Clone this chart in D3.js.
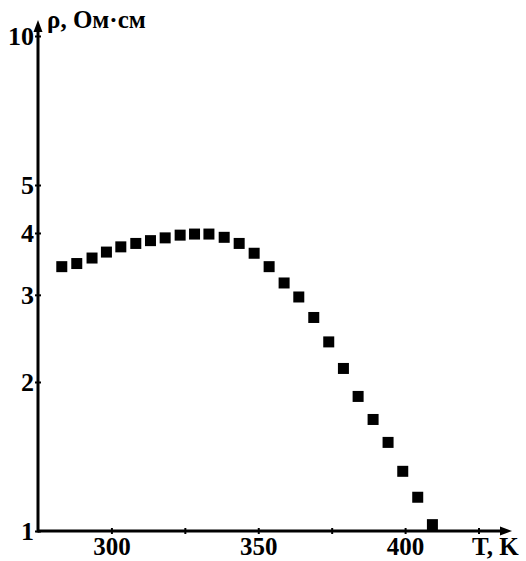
<!DOCTYPE html>
<html>
<head>
<meta charset="utf-8">
<script src="https://cdn.jsdelivr.net/npm/d3@7"></script>
<style>
body { margin: 0; background: #fff; }
text { font-family: 'Liberation Serif', 'Times New Roman', serif; font-weight: bold; fill: #000; }
</style>
</head>
<body>
<div id="chart"></div>
<script>
// temperature, K
var temps = [283.1, 288.2, 293.4, 298.3, 303.2, 308.3, 313.3, 318.3, 323.4, 328.3,
  333.2, 338.4, 343.5, 348.6, 353.7, 358.8, 363.8, 368.9, 374.0, 379.0,
  384.0, 389.1, 394.2, 399.2, 404.3, 409.3];
// resistivity, Ohm*cm
var rho = [3.42, 3.47, 3.56, 3.66, 3.75, 3.81, 3.86, 3.91, 3.96, 3.98,
  3.98, 3.92, 3.81, 3.64, 3.42, 3.17, 2.97, 2.70, 2.41, 2.13,
  1.87, 1.68, 1.51, 1.32, 1.17, 1.03];
var xTicks = [300, 325, 350, 375, 400, 425];
var xLabels = [300, 350, 400];
var yTicks = [1, 2, 3, 4, 5, 10];

var width = 526, height = 561;
var x0 = 38, y0 = 531;

var svg = d3.select('#chart').append('svg')
  .attr('width', width)
  .attr('height', height);

var x = d3.scaleLinear()
  .domain([275, 436.4])
  .range([x0, 512]);

var y = d3.scaleLog()
  .domain([1, 10])
  .range([y0, 36]);

// x axis
var xAxis = d3.axisBottom(x)
  .tickValues(xTicks)
  .tickSize(0)
  .tickFormat(d => xLabels.indexOf(d) >= 0 ? d : '');

var gx = svg.append('g')
  .attr('transform', 'translate(0,' + y0 + ')')
  .call(xAxis);
gx.select('.domain').remove();
gx.selectAll('.tick line')
  .attr('y1', -3).attr('y2', 3)
  .attr('stroke', '#000').attr('stroke-width', 2);
gx.selectAll('.tick text')
  .attr('y', 24)
  .attr('dy', 0)
  .style('font-size', '25px');

// y axis
var yAxis = d3.axisLeft(y)
  .tickValues(yTicks)
  .tickSize(0)
  .tickFormat(d3.format('d'));

var gy = svg.append('g')
  .attr('transform', 'translate(' + x0 + ',0)')
  .call(yAxis);
gy.select('.domain').remove();
gy.selectAll('.tick line')
  .attr('x1', -3).attr('x2', 3)
  .attr('stroke', '#000').attr('stroke-width', 2);
gy.selectAll('.tick text')
  .attr('x', -4)
  .attr('dy', '0.34em')
  .style('font-size', '26px');

// axis lines with arrows
svg.append('line')
  .attr('x1', x0).attr('y1', y0)
  .attr('x2', 506).attr('y2', y0)
  .attr('stroke', '#000').attr('stroke-width', 3);
svg.append('path')
  .attr('d', 'M512,' + y0 + 'L500,' + (y0 - 4.5) + 'L500,' + (y0 + 4.5) + 'Z')
  .attr('fill', '#000');

svg.append('line')
  .attr('x1', x0).attr('y1', y0 + 1.5)
  .attr('x2', x0).attr('y2', 26)
  .attr('stroke', '#000').attr('stroke-width', 3);
svg.append('path')
  .attr('d', 'M' + x0 + ',20L' + (x0 - 4.5) + ',32L' + (x0 + 4.5) + ',32Z')
  .attr('fill', '#000');

// axis titles
svg.append('text')
  .attr('x', 47)
  .attr('y', 28)
  .style('font-size', '25px')
  .text('ρ, Ом·см');

svg.append('text')
  .attr('x', 472)
  .attr('y', 555)
  .style('font-size', '25px')
  .text('T, K');

// data squares
var s = 11;
svg.selectAll('.pt')
  .data(temps)
  .enter()
  .append('rect')
  .attr('class', 'pt')
  .attr('x', d => x(d) - s / 2)
  .attr('y', (d, i) => y(rho[i]) - s / 2)
  .attr('width', s)
  .attr('height', s)
  .attr('fill', '#000');
</script>
</body>
</html>
